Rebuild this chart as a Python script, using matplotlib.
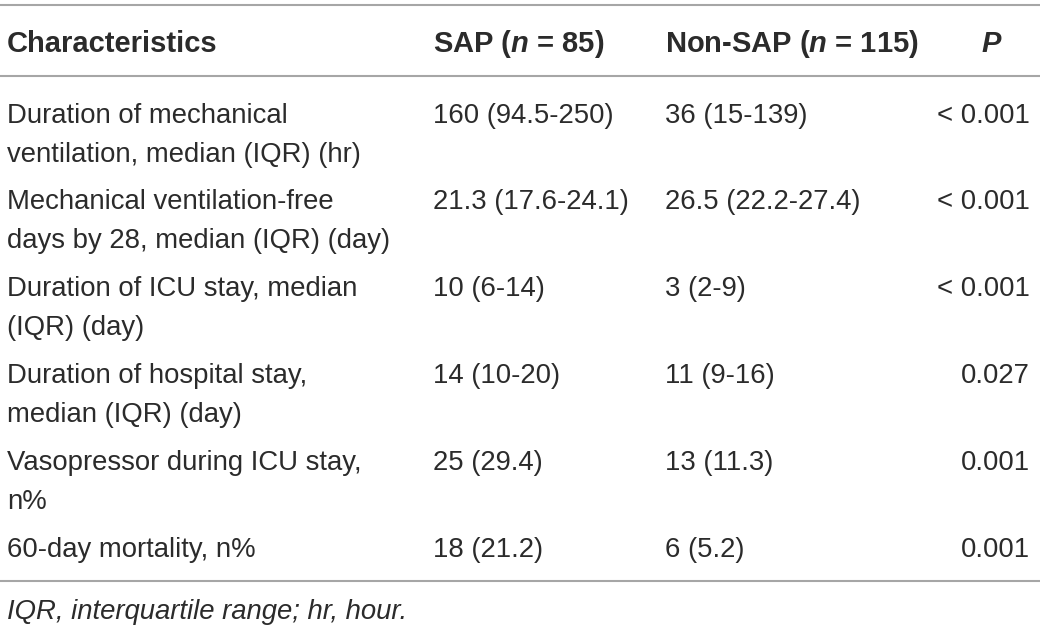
import matplotlib
matplotlib.use("Agg")
import matplotlib.pyplot as plt

plt.rcParams['font.family'] = ['Liberation Sans', 'DejaVu Sans']
plt.rcParams['mathtext.fontset'] = 'custom'
plt.rcParams['mathtext.rm'] = 'Liberation Sans:bold'
plt.rcParams['mathtext.it'] = 'Liberation Sans:bold:italic'
plt.rcParams['mathtext.bf'] = 'Liberation Sans:bold'

headers = ["Characteristics", "SAP ($n$ = 85)", "Non-SAP ($n$ = 115)", "$P$"]

characteristics = [
    "Duration of mechanical\nventilation, median (IQR) (hr)",
    "Mechanical ventilation-free\ndays by 28, median (IQR) (day)",
    "Duration of ICU stay, median\n(IQR) (day)",
    "Duration of hospital stay,\nmedian (IQR) (day)",
    "Vasopressor during ICU stay,\nn%",
    "60-day mortality, n%",
]
sap = ["160 (94.5-250)", "21.3 (17.6-24.1)", "10 (6-14)",
       "14 (10-20)", "25 (29.4)", "18 (21.2)"]
non_sap = ["36 (15-139)", "26.5 (22.2-27.4)", "3 (2-9)",
           "11 (9-16)", "13 (11.3)", "6 (5.2)"]
p_values = ["< 0.001", "< 0.001", "< 0.001", "0.027", "0.001", "0.001"]

footnote = "IQR, interquartile range; hr, hour."

txt = "#2b2b2b"
rule = "#a6a6a6"
fs = 19.8
fs_head = 21

fig = plt.figure(figsize=(10.4, 6.3), dpi=100)
ax = fig.add_axes([0, 0, 1, 1])
ax.set_xlim(0, 1040)
ax.set_ylim(630, 0)
ax.axis("off")

# rules
for y in [5, 76, 581]:
    ax.axhline(y, color=rule, lw=1.5)

# header
col_x = [7, 433, 665]
for x, h in zip(col_x, headers[:3]):
    ax.text(x, 52, h, fontsize=fs_head, fontweight="bold", color=txt, va="baseline")
ax.text(992, 52, headers[3], fontsize=fs_head, fontweight="bold", color=txt,
        va="baseline", ha="center")

# body
row_base = [123, 209, 296, 383, 470, 557]
line_gap = 39
for i, y in enumerate(row_base):
    for j, line in enumerate(characteristics[i].split("\n")):
        ax.text(col_x[0], y + j * line_gap, line, fontsize=fs, color=txt, va="baseline")
    ax.text(col_x[1], y, sap[i], fontsize=fs, color=txt, va="baseline")
    ax.text(col_x[2], y, non_sap[i], fontsize=fs, color=txt, va="baseline")
    ax.text(1030, y, p_values[i], fontsize=fs, color=txt, va="baseline", ha="right")

ax.text(col_x[0], 619, footnote, fontsize=fs, style="italic", color=txt, va="baseline")

fig.savefig("out.png", dpi=100)
